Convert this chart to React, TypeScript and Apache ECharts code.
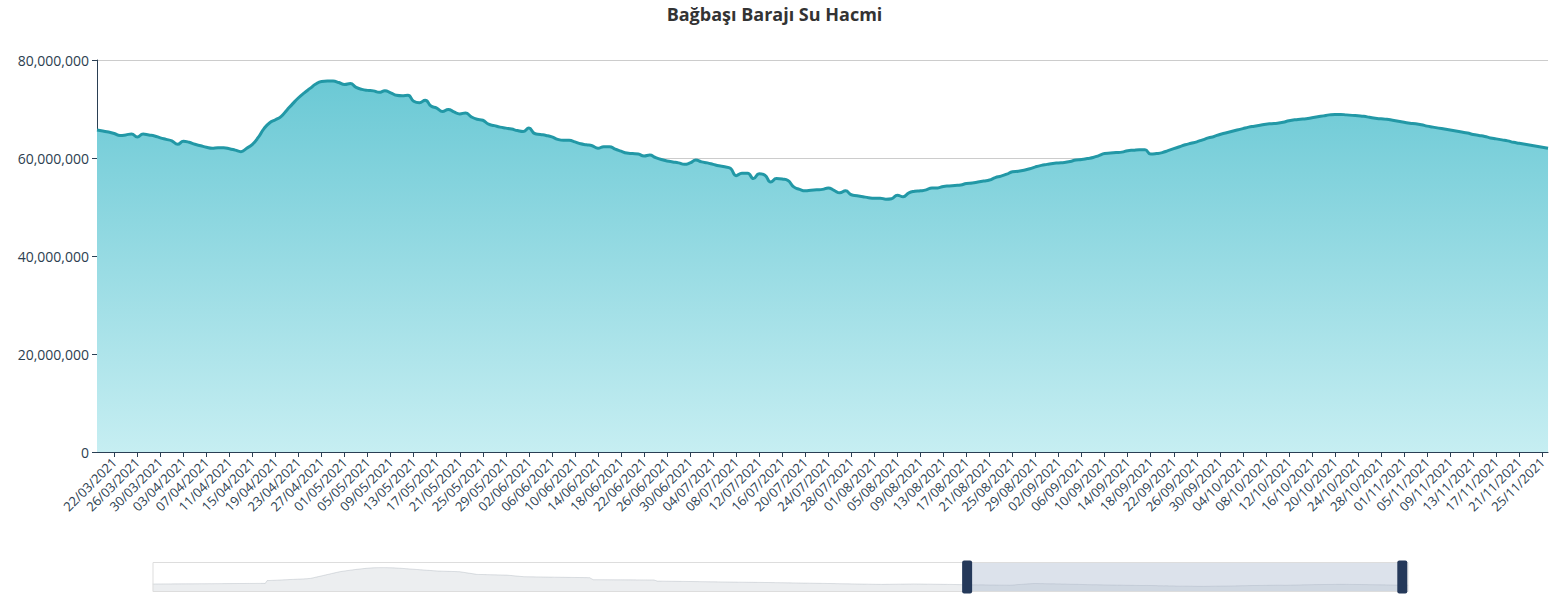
import React, { useEffect, useRef } from "react";
import * as echarts from "echarts";

const volWinter2020 = [
  72.1, 72.2, 72.2, 72.3, 72.4, 72.4, 72.5, 72.6, 72.6, 72.7,
  72.8, 72.8, 72.9, 73.0, 73.0, 73.1, 73.2, 73.3, 73.3, 73.4,
  73.5, 73.5, 73.6, 73.7, 73.8, 73.8, 73.9, 74.0, 74.1, 74.1,
  74.2, 74.3, 74.4, 74.5, 74.5, 74.6, 74.7, 74.8, 74.9, 75.0,
  75.0, 75.1, 75.2, 75.3, 75.4, 75.5, 75.6, 75.6, 75.7, 75.8,
  75.9, 76.0, 76.1, 76.2, 76.3, 76.4, 76.5, 76.6, 76.7, 76.8,
  76.9, 77.0, 77.1, 77.2, 77.3, 77.4,
];
const volSpring2020 = [
  100.5, 101.2, 101.9, 102.6, 103.3, 104.0, 104.7, 105.4, 106.1, 106.8,
  107.5, 108.2, 108.9, 109.6, 110.3, 111.0, 111.7, 112.4, 113.1, 113.8,
  114.5, 115.2, 116.0, 117.0, 118.2, 119.6,
  122.5, 125.8, 129.2, 132.6, 136.0, 139.4, 142.8, 146.2, 149.6, 153.0,
  156.4, 159.8, 163.2, 166.6, 170.0, 173.3, 176.6,
  178.8, 181.0, 183.2, 185.3, 187.4, 189.4, 191.4, 193.3, 195.2, 197.0,
  198.8, 200.5, 202.1, 203.6, 205.0, 206.3, 207.5, 208.6, 209.6,
  210.2, 210.6, 210.9, 211.1, 211.2, 211.2, 211.1, 210.9, 210.6, 210.2,
  209.7, 209.1, 208.4, 207.6, 206.7, 205.7,
];
const volSummer2020 = [
  204.6, 203.5, 202.4, 201.3, 200.2, 199.1, 198.0, 196.9, 195.8, 194.7,
  193.6, 192.5, 191.4, 190.3, 189.2, 188.1, 187.0, 185.9, 184.8, 183.8,
  182.9, 182.2, 181.7,
  181.2, 180.7, 180.2, 179.8, 179.3, 178.8, 178.3, 177.9, 177.4, 177.0, 176.6,
  174.3, 172.0, 169.7, 167.4, 165.1, 162.8, 160.5, 158.2, 155.9, 153.6,
  153.2, 152.9, 152.5, 152.2, 151.8, 151.5, 151.1, 150.8, 150.4, 150.1,
  149.7, 149.4, 149.0, 148.7, 148.4, 148.0, 147.7,
  146.3, 145.0, 143.6, 142.2, 140.8, 139.4, 138.1, 136.7, 135.3, 134.0,
  133.8, 133.5, 133.3, 133.1, 132.9, 132.7, 132.4, 132.2, 132.0, 131.8,
  131.6, 131.3, 131.1, 130.9, 130.7, 130.5, 130.2, 130.0, 129.8, 129.6,
  129.4, 129.1, 128.9, 128.7, 128.5, 128.3, 128.0, 127.8, 127.6, 127.4,
  127.2, 126.9, 126.7, 126.5, 126.3, 126.1, 125.8, 125.6,
];
const volAutumn2020 = [
  117.0, 108.6,
  108.5, 108.4, 108.4, 108.3, 108.2, 108.2, 108.1, 108.0, 108.0, 107.9,
  107.8, 107.8, 107.7, 107.6, 107.6, 107.5, 107.4, 107.4, 107.3, 107.2,
  107.2, 107.1, 107.0, 107.0, 106.9, 106.8, 106.8, 106.7, 106.6, 106.6,
  106.5, 106.4, 106.4, 106.3, 106.2,
  101.5, 96.7,
  96.5, 96.3, 96.1, 95.9, 95.7, 95.5, 95.3, 95.1, 94.9, 94.8,
  94.6, 94.4, 94.2, 94.0, 93.8, 93.6, 93.4, 93.2, 93.0, 92.8,
  92.6, 92.4, 92.2, 92.0, 91.9, 91.7, 91.5, 91.3, 91.1, 90.9,
  90.7, 90.5, 90.3, 90.1, 89.9, 89.7, 89.5, 89.3, 89.1, 89.0,
  88.8, 88.6, 88.4, 88.2, 88.0, 87.8, 87.6, 87.4, 87.2, 87.0,
  86.8, 86.6, 86.4, 86.2, 86.1, 85.9, 85.7, 85.5, 85.3, 85.1,
  84.9, 84.7, 84.5, 84.3, 84.1, 83.9, 83.7, 83.5, 83.3, 83.2, 83.0,
];
const volWinter2021 = [
  82.8, 82.5, 82.3, 82.0, 81.8, 81.5, 81.3, 81.0, 80.8, 80.5,
  80.3, 80.0, 79.8, 79.5, 79.3, 79.0, 78.8, 78.5, 78.3, 78.0,
  77.8, 77.5, 77.3, 77.0, 76.8, 76.5, 76.3, 76.0, 75.8, 75.5,
  75.3, 75.0, 74.8, 74.5, 74.3, 74.0, 73.8, 73.5, 73.3, 73.0,
  72.8, 72.5, 72.3, 72.0, 71.8, 71.5, 71.3, 71.0, 70.8, 70.5,
  70.3, 70.0, 69.8, 69.5, 69.3, 69.0, 68.8, 68.6,
  68.7, 68.9, 69.1, 69.3, 69.5, 69.7, 69.9, 70.1, 70.3, 70.5,
  70.7, 70.9, 71.1, 71.3, 71.5, 71.7, 71.9, 72.1, 72.3,
  72.1, 71.9, 71.7, 71.5, 71.3, 71.1, 70.9, 70.7, 70.5, 70.3,
  70.1, 69.9, 69.7, 69.5, 69.3, 69.1, 68.9, 68.7, 68.5, 68.3,
  68.1, 67.9, 67.6, 67.3, 67.0, 66.7, 66.4, 66.1, 65.9,
];
// 19/03/2021 onward
const vol2021 = [
  65.7, 65.5, 65.3, 65.0, 64.6, 64.7, 64.9, 64.3, 64.9, 64.7,
  64.5, 64.1, 63.8, 63.5, 62.8, 63.4, 63.2, 62.8, 62.5, 62.2,
  62.0, 62.1, 62.1, 61.9, 61.6, 61.3, 62.0, 62.8, 64.2, 66.0,
  67.2, 67.8, 68.5, 69.8, 71.1, 72.3, 73.3, 74.2, 75.1, 75.6,
  75.7, 75.7, 75.4, 75.0, 75.2, 74.4, 74.0, 73.8, 73.7, 73.4,
  73.7, 73.3, 72.8, 72.7, 72.8, 71.6, 71.3, 71.8, 70.6, 70.2,
  69.5, 69.9, 69.4, 69.0, 69.2, 68.4, 67.9, 67.7, 66.9, 66.6,
  66.3, 66.1, 65.9, 65.6, 65.4, 66.1, 65.0, 64.8, 64.6, 64.3,
  63.8, 63.6, 63.6, 63.3, 62.9, 62.7, 62.5, 62.0, 62.3, 62.3,
  61.8, 61.4, 61.0, 60.9, 60.8, 60.4, 60.6, 60.1, 59.7, 59.4,
  59.2, 59.0, 58.7, 59.0, 59.6, 59.2, 59.0, 58.7, 58.4, 58.2,
  57.9, 56.4, 56.9, 56.9, 55.8, 56.8, 56.5, 55.1, 55.8, 55.7,
  55.4, 54.1, 53.6, 53.3, 53.4, 53.5, 53.6, 53.9, 53.4, 52.9,
  53.3, 52.5, 52.3, 52.1, 51.9, 51.8, 51.8, 51.6, 51.7, 52.4,
  52.1, 52.9, 53.2, 53.3, 53.5, 53.9, 53.9, 54.2, 54.3, 54.4,
  54.5, 54.8, 54.9, 55.1, 55.3, 55.5, 56.0, 56.3, 56.7, 57.2,
  57.3, 57.5, 57.8, 58.2, 58.5, 58.7, 58.9, 59.0, 59.1, 59.3,
  59.6, 59.7, 59.9, 60.1, 60.5, 60.9, 61.0, 61.1, 61.2, 61.5,
  61.6, 61.7, 61.7, 60.8, 60.9, 61.1, 61.5, 61.9, 62.3, 62.7,
  63.0, 63.3, 63.7, 64.1, 64.4, 64.8, 65.1, 65.4, 65.7, 66.0,
  66.3, 66.5, 66.7, 66.9, 67.0, 67.1, 67.3, 67.6, 67.8, 67.9,
  68.0, 68.2, 68.4, 68.6, 68.8, 68.9, 68.9, 68.8, 68.7, 68.6,
  68.5, 68.3, 68.1, 68.0, 67.9, 67.7, 67.5, 67.3, 67.1, 67.0,
  66.8, 66.5, 66.3, 66.1, 65.9, 65.7, 65.5, 65.3, 65.1, 64.8,
  64.6, 64.4, 64.1, 63.9, 63.7, 63.5, 63.2, 63.0, 62.8, 62.6,
  62.4, 62.2, 62.0, 61.9, 61.8, 61.7,
];

const yTicks = [0, 20000000, 40000000, 60000000, 80000000];

const earlyVol = [
  ...volWinter2020,
  ...volSpring2020,
  ...volSummer2020,
  ...volAutumn2020,
  ...volWinter2021,
];
const allVol = [...earlyVol, ...vol2021];

// categories: one per day, ending with the series
const windowStartDate = Date.UTC(2021, 2, 19);
const dayMs = 86400000;
const pad = (n: number) => (n < 10 ? "0" + n : "" + n);
const dates: string[] = allVol.map((_, i) => {
  const d = new Date(windowStartDate + (i - earlyVol.length) * dayMs);
  return pad(d.getUTCDate()) + "/" + pad(d.getUTCMonth() + 1) + "/" + d.getUTCFullYear();
});

const FONT = "'Open Sans', 'Noto Sans', sans-serif";
const LABEL = "#2c3e50";
const AXIS = "#2a3f54";

export default function App() {
  const ref = useRef<HTMLDivElement>(null);
  useEffect(() => {
    if (!ref.current) return;
    const chart = echarts.init(ref.current, undefined, { renderer: "svg" });
    const handle =
      "path://M2,0 L8,0 Q10,0 10,2 L10,31 Q10,33 8,33 L2,33 Q0,33 0,31 L0,2 Q0,0 2,0 Z";
    chart.setOption({
      animation: false,
      textStyle: { fontFamily: FONT },
      title: {
        text: "Bağbaşı Barajı Su Hacmi",
        left: "center",
        top: 0,
        textStyle: { fontSize: 18, fontWeight: "bold", color: "#333", fontFamily: FONT },
      },
      grid: { left: 97, right: 0, top: 60, bottom: 148 },
      xAxis: {
        type: "category",
        boundaryGap: false,
        data: dates,
        axisLine: { show: true, lineStyle: { color: AXIS } },
        axisTick: { show: true, lineStyle: { color: AXIS } },
        axisLabel: { rotate: 45, interval: 3, fontSize: 13, color: LABEL, fontFamily: FONT },
      },
      yAxis: {
        type: "value",
        min: yTicks[0],
        max: yTicks[yTicks.length - 1],
        interval: yTicks[1] - yTicks[0],
        axisLine: { show: true, lineStyle: { color: AXIS } },
        axisTick: { show: true, lineStyle: { color: AXIS } },
        splitLine: { show: true, lineStyle: { color: "#ccc" } },
        axisLabel: {
          fontSize: 14,
          color: LABEL,
          fontFamily: FONT,
          formatter: (v: number) => v.toLocaleString("en-US"),
        },
      },
      dataZoom: [
        {
          type: "slider",
          xAxisIndex: 0,
          startValue: earlyVol.length,
          endValue: earlyVol.length + 252,
          left: 150,
          right: 143,
          top: 562,
          height: 30,
          showDetail: false,
          brushSelect: false,
          moveHandleSize: 0,
          borderColor: "#ddd",
          borderRadius: 0,
          backgroundColor: "rgba(47,69,84,0)",
          fillerColor: "rgba(167,183,204,0.4)",
          dataBackground: {
            lineStyle: { color: "#2f4554", width: 0.5, opacity: 0.3 },
            areaStyle: { color: "rgba(47,69,84,0.3)", opacity: 0.3 },
          },
          selectedDataBackground: {
            lineStyle: { color: "#2f4554", width: 0.5, opacity: 0.3 },
            areaStyle: { color: "rgba(47,69,84,0.3)", opacity: 0.3 },
          },
          handleIcon: handle,
          handleSize: "110%",
          handleStyle: { color: "#25395a", borderColor: "#25395a", borderWidth: 0 },
        },
      ],
      series: [
        {
          type: "line",
          name: "Su Hacmi",
          data: allVol.map((v) => Math.round(v * 1e6)),
          smooth: true,
          showSymbol: false,
          symbol: "none",
          lineStyle: { color: "#2298a6", width: 3 },
          itemStyle: { color: "#2298a6" },
          areaStyle: {
            opacity: 1,
            color: new echarts.graphic.LinearGradient(0, 0, 0, 1, [
              { offset: 0, color: "#6bc9d5" },
              { offset: 1, color: "#c6eef2" },
            ]),
          },
        },
      ],
    });
    return () => chart.dispose();
  }, []);
  return (
    <div
      ref={ref}
      style={{ position: "absolute", left: 0, top: 0, width: 1549, height: 600 }}
    />
  );
}
